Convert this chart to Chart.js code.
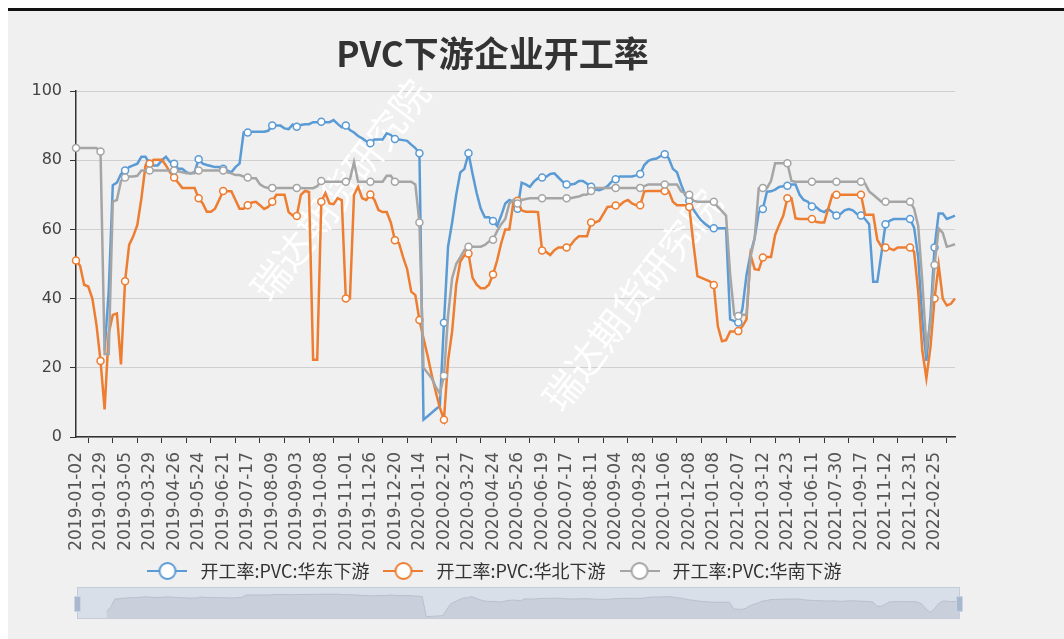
<!DOCTYPE html>
<html>
<head>
<meta charset="utf-8">
<script src="https://cdn.jsdelivr.net/npm/chart.js@4.4.0/dist/chart.umd.min.js"></script>
<style>
  html, body { margin: 0; padding: 0; background: #fff; }
  body { width: 1064px; height: 639px; position: relative; overflow: hidden; }
  #frame { position: absolute; left: 8px; top: 8px; right: 0; bottom: 0; border-top: 3px solid #111; background: #f0f0f0; }
  #main { position: absolute; left: 0; top: 0; }
  #zoomBar { position: absolute; left: 77px; top: 587px; width: 883px; height: 32px; background: #d9dfe9; border: 1px solid #c4ccda; box-sizing: border-box; }
  #mini { position: absolute; left: 0; top: 0; }
  .handle { position: absolute; top: 8px; width: 5px; height: 14px; background: #a9b8cf; border: 1px solid #c9d3e2; border-radius: 1px; }
</style>
</head>
<body>
<div id="frame"></div>
<canvas id="main" width="985" height="639"></canvas>
<div id="zoomBar">
  <canvas id="mini" width="881" height="30"></canvas>
  <div class="handle" style="left:-4px"></div>
  <div class="handle" style="right:-4px"></div>
</div>
<script>
document.addEventListener('DOMContentLoaded', function () {
    // Tick labels on the x axis (one every 6 categories)
    const tickLabels = [
        '2019-01-02', '2019-01-29', '2019-03-05', '2019-03-29', '2019-04-26', '2019-05-24',
        '2019-06-21', '2019-07-17', '2019-08-09', '2019-09-03', '2019-10-08', '2019-11-01',
        '2019-11-26', '2019-12-20', '2020-01-14', '2020-02-21', '2020-03-27', '2020-04-24',
        '2020-05-26', '2020-06-19', '2020-07-17', '2020-08-11', '2020-09-04', '2020-09-28',
        '2020-11-06', '2020-12-08', '2021-01-08', '2021-02-07', '2021-03-12', '2021-04-23',
        '2021-06-11', '2021-07-30', '2021-09-17', '2021-11-12', '2021-12-31', '2022-02-25'
    ];
    const labelStep = 6;

    const seriesNames = ['开工率:PVC:华东下游', '开工率:PVC:华北下游', '开工率:PVC:华南下游'];
    const seriesColors = ['#5b9bd5', '#ed7d31', '#a5a5a5'];

    // 华东下游
    const eastData = [
        null, null, null, null, null, null,
        null, 25, 42, 72.8, 73.5, 76,
        77, 78, 78.5, 79, 81, 81,
        79, 78.5, 78.5, 80, 81, 79.5,
        79, 77.5, 77.5, 76.5, 76.2, 76.5,
        80.3, 79, 78.6, 78.3, 78, 78,
        77.5, 77, 76.5, 78, 79, 88,
        88, 88.2, 88.2, 88.2, 88.2, 88.5,
        90, 90, 90, 89.2, 89, 90.3,
        89.7, 90.2, 90.4, 90.4, 91, 91,
        91.1, 91, 91, 91.6, 90.5, 89.5,
        90, 88.7, 88, 87, 86.3, 85.5,
        84.9, 86, 86, 86, 87.8, 87.3,
        86.1, 86, 85.8, 85.6, 84.5, 83.5,
        82, 5, 6, 7, 8, 9,
        33, 55, 62, 70, 76.5, 77.5,
        82, 76, 70.5, 66, 63.5, 63.5,
        62.4, 61, 64, 67.5, 68.5, 68,
        66, 73.5, 73, 72.3, 73.8, 74.8,
        75, 75.2, 76, 76.2, 75, 73.8,
        73, 73, 73.2, 74, 74, 73.2,
        72.3, 71.5, 71.3, 71.8, 72.5, 73.8,
        74.5, 75.3, 75.3, 75.3, 75.3, 75.6,
        76, 78.6, 79.8, 80.3, 80.5, 81.2,
        81.7, 80.5, 77.5, 76.5, 73, 70,
        68.3, 65.8, 64, 62.5, 61.5, 60.6,
        60.3, 60.3, 60.3, 60.3, 34, 33.5,
        33.1, 37, 46.8, 53, 57.5, 65,
        65.9, 70.9, 71, 71.5, 72.3, 72.5,
        72.6, 73, 73, 70, 68.5, 68,
        66.6, 66.5, 65.5, 65, 65.9, 65,
        64, 64.5, 65.5, 65.9, 65.5, 64.5,
        64, 63, 61.5, 44.9, 44.9, 53,
        61.5, 62.5, 63, 63, 63, 63,
        63, 60.5, 52, 34, 22, 35,
        54.8, 64.6, 64.6, 63, 63.5, 64
    ];

    // 华北下游
    const northData = [
        51, 49.5, 44, 43.5, 40, 32.5,
        22, 8, 30, 35.3, 35.7, 21,
        45, 55.5, 58, 61.3, 69, 78.5,
        79, 80.1, 80.1, 80.1, 78.5, 76.5,
        75, 73.5, 72, 72, 72, 72,
        69, 67.5, 65.1, 65.1, 66, 68.5,
        71.1, 71, 71, 68.5, 66, 66,
        67, 67.8, 68, 67, 65.9, 66.5,
        68, 70, 70, 70, 65, 64,
        63.9, 70, 71.1, 70.8, 22.3, 22.3,
        68, 70.5, 67.5, 67.3, 69, 68.5,
        40, 40, 70, 72.3, 69, 68.5,
        70.1, 68.5, 65.6, 65, 65, 62,
        56.9, 56, 52, 48.5, 42, 41,
        33.8, 28.5, 23.5, 18, 13, 8.5,
        5, 22, 30.5, 44, 50.7, 52.5,
        53, 46, 44, 43, 43, 44,
        47, 51, 56, 60, 60, 68,
        68.3, 65.5, 65.1, 65.1, 65.1, 65,
        53.9, 53.5, 52.6, 54, 54.8, 54.8,
        54.8, 55.5, 57, 58, 58, 58,
        62, 62, 62.5, 64.5, 66.5, 66.6,
        66.9, 67, 68, 68.5, 67.5, 67,
        67, 71, 71.1, 71.1, 71.1, 71.1,
        71.1, 71, 68, 67, 67, 67,
        66.5, 56, 46.5, 46, 45.5, 45,
        43.9, 32, 27.7, 28, 30.5, 30.5,
        30.6, 32, 34, 52.6, 48.5, 48.3,
        51.9, 52, 52, 58.4, 61.3, 64,
        69, 69, 63.2, 63, 63, 63,
        63, 62.2, 62, 62, 66, 70,
        70, 70, 70, 70, 70, 70,
        70, 64.2, 64.2, 64.2, 57, 55,
        54.8, 54.5, 54, 54.8, 54.8, 54.8,
        54.8, 53.5, 42, 25, 17, 26,
        40, 49.7, 40, 38, 38.5, 40
    ];

    // 华南下游
    const southData = [
        83.5, 83.5, 83.5, 83.5, 83.5, 83.5,
        82.5, 24, 24, 68, 68.5, 74,
        75, 75.3, 75.3, 75.5, 77, 77,
        77, 77, 77, 77, 77, 77,
        77, 76.8, 76.5, 76.2, 76.2, 76.2,
        77, 77, 77, 77, 77, 77,
        77, 76.5, 76.2, 75.7, 75.7, 75.3,
        75, 74.8, 74.8, 73, 72.3, 72,
        72, 72, 72, 72, 72, 72,
        72, 72, 71.9, 71.9, 71.9, 72.5,
        74, 73.8, 73.8, 73.8, 73.8, 73.8,
        73.8, 74.5, 79.4, 73.8, 73.8, 73.8,
        73.8, 73.8, 73.8, 73.8, 75.5, 75.5,
        73.8, 73.8, 73.8, 73.8, 73.8, 73,
        62, 20, 18.5, 17, 14.5, 12.5,
        17.7, 35, 45.9, 50, 52, 54,
        55, 55, 55, 55, 55.5, 56.5,
        57, 59.5, 61.5, 63, 67.5, 68.5,
        67.5, 68.5, 68.8, 69, 69, 69,
        69, 69, 69, 69, 69, 69,
        69, 69, 69.3, 69.5, 70, 70.1,
        71.1, 72, 72, 72, 72, 72,
        72, 72, 72, 72, 72, 72,
        72, 72.5, 73, 73, 73, 73,
        73, 73, 73, 73, 71, 70.5,
        70, 68.3, 68, 68, 68, 68,
        68, 66.5, 65.3, 64, 47, 35.3,
        35, 35.3, 35.3, 52, 57.5, 71.9,
        72, 71.9, 74, 79.1, 79.1, 79.1,
        79.1, 74, 73.8, 73.8, 73.8, 73.8,
        73.8, 73.8, 73.8, 73.8, 73.8, 73.8,
        73.8, 73.8, 73.8, 73.8, 73.8, 73.8,
        73.8, 73.3, 71, 70, 69, 68,
        68, 68, 68, 68, 68, 68,
        68, 66, 61, 45, 26, 33,
        49.7, 60.3, 59, 55, 55.3, 55.7
    ];

    const categories = eastData.map((_, i) => i);
    const allSeries = [eastData, northData, southData];

    // Legend icon: short line with a hollow circle
    function legendIcon(color) {
        const c = document.createElement('canvas');
        c.width = 40;
        c.height = 20;
        const g = c.getContext('2d');
        g.strokeStyle = color;
        g.lineWidth = 2;
        g.beginPath(); g.moveTo(0, 10); g.lineTo(40, 10); g.stroke();
        g.beginPath(); g.arc(20, 10, 8, 0, Math.PI * 2);
        g.fillStyle = '#fff'; g.fill(); g.stroke();
        return c;
    }
    const icons = seriesColors.map(legendIcon);

    // Watermark text behind the lines
    const watermark = {
        id: 'watermark',
        beforeDatasetsDraw(chart) {
            const g = chart.ctx;
            g.save();
            g.font = '38px "Noto Sans CJK SC"';
            g.fillStyle = 'rgba(255,255,255,0.95)';
            g.textAlign = 'center';
            g.textBaseline = 'middle';
            [[340, 190], [632, 300]].forEach(function (p) {
                g.save();
                g.translate(p[0], p[1]);
                g.rotate(-52.5 * Math.PI / 180);
                g.fillText('瑞达期货研究院', 0, 0);
                g.restore();
            });
            g.restore();
        }
    };

    const axisFont = { family: '"DejaVu Sans", sans-serif', size: 16 };

    new Chart(document.getElementById('main'), {
        type: 'line',
        data: {
            labels: categories,
            datasets: allSeries.map((d, k) => ({
                label: seriesNames[k],
                data: d,
                borderColor: seriesColors[k],
                backgroundColor: '#fff',
                borderWidth: 2.5,
                pointRadius: ctx => (ctx.index % labelStep === 0 ? 3.5 : 0),
                pointBorderWidth: 1.5,
                pointBackgroundColor: '#fff',
                pointBorderColor: seriesColors[k],
                tension: 0,
                order: 3 - k // later series on top
            }))
        },
        options: {
            responsive: false,
            animation: false,
            events: [],
            layout: { padding: { left: 30, right: 30, top: 0, bottom: 49 } },
            plugins: {
                title: {
                    display: true,
                    text: 'PVC下游企业开工率',
                    color: '#333',
                    font: { family: '"Noto Sans CJK SC"', size: 35, weight: 'bold' },
                    padding: { top: 33, bottom: 16 }
                },
                legend: {
                    position: 'bottom',
                    labels: {
                        usePointStyle: true,
                        pointStyleWidth: 48,
                        color: '#333',
                        font: { family: '"Noto Sans CJK SC"', size: 18 },
                        padding: 10,
                        sort: (a, b) => a.datasetIndex - b.datasetIndex,
                        generateLabels: chart => Chart.defaults.plugins.legend.labels.generateLabels(chart)
                            .map(item => Object.assign(item, { pointStyle: icons[item.datasetIndex] }))
                    }
                },
                tooltip: { enabled: false }
            },
            scales: {
                x: {
                    ticks: {
                        autoSkip: false,
                        minRotation: 90,
                        maxRotation: 90,
                        labelOffset: -12,
                        padding: 9,
                        color: '#555',
                        font: { family: '"DejaVu Sans", sans-serif', size: 17 },
                        callback: (v, i) => (i % labelStep === 3 ? tickLabels[(i - 3) / labelStep] : null)
                    },
                    grid: { drawOnChartArea: false, tickLength: 6, tickColor: '#333' },
                    border: { color: '#333', width: 1.5 },
                    afterFit: s => { s.height = 115; }
                },
                y: {
                    min: 0,
                    max: 100,
                    ticks: { stepSize: 20, padding: 8, color: '#444', font: axisFont },
                    grid: { color: '#d0d0d0', tickColor: '#333', tickLength: 6 },
                    border: { color: '#333', width: 1.5 },
                    afterFit: s => { s.width = 46; }
                }
            }
        },
        plugins: [watermark]
    });

    // Data zoom shadow strip (first series)
    new Chart(document.getElementById('mini'), {
        type: 'line',
        data: {
            labels: categories,
            datasets: [{
                data: eastData,
                borderColor: '#b8c0cc',
                borderWidth: 1,
                backgroundColor: 'rgba(185,192,205,0.5)',
                fill: 'origin',
                pointRadius: 0,
                tension: 0
            }]
        },
        options: {
            responsive: false,
            animation: false,
            events: [],
            plugins: { legend: { display: false }, tooltip: { enabled: false } },
            scales: { x: { display: false }, y: { display: false, min: 0, max: 115 } }
        }
    });
});
</script>
</body>
</html>
